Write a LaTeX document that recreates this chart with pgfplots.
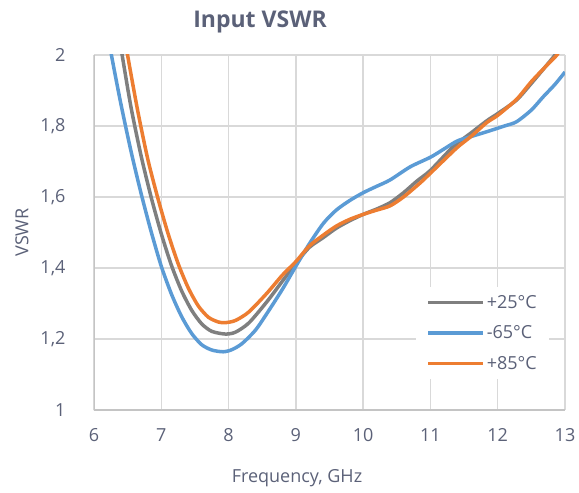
\documentclass[border=0pt]{standalone}
\usepackage{pgfplots}
\pgfplotsset{compat=1.18}
\usepackage{fontspec}
\setmainfont{Open Sans}
\definecolor{txt}{HTML}{5B6178}
\definecolor{gridc}{HTML}{D9D9D9}
\definecolor{axc}{HTML}{C4C4C4}
\definecolor{cgray}{HTML}{7F7F7F}
\definecolor{cblue}{HTML}{5B9BD5}
\definecolor{corange}{HTML}{ED7D31}
\begin{document}
\begin{tikzpicture}
\useasboundingbox (-94bp,-83bp) rectangle (485bp,410bp);
\begin{axis}[
 scale only axis, width=471bp, height=355bp,
 at={(0,0)}, anchor=south west,
 xmin=6, xmax=13, ymin=1, ymax=2,
 xtick={6,...,13}, ytick={1,1.2,1.4,1.6,1.8,2},
 grid=major, major grid style={gridc, line width=1.5bp},
 axis line style={draw=none},
 major tick length=0pt,
 /pgf/number format/assume math mode=true,
 /pgf/number format/use comma,
 yticklabel style={/pgf/number format/fixed, /pgf/number format/precision=1, font=\fontsize{18bp}{20bp}\selectfont, text=txt, xshift=-25bp},
 xticklabel style={font=\fontsize{18bp}{20bp}\selectfont, text=txt, yshift=-15bp},
 xlabel={Frequency, GHz},
 xlabel style={at={(axis description cs:0.431,-0.1915)}, anchor=center, font=\fontsize{18bp}{20bp}\selectfont, text=txt},
 ylabel={VSWR},
 ylabel style={at={(axis description cs:-0.153,0.5)}, anchor=center, font=\fontsize{18bp}{20bp}\selectfont, text=txt},
 legend style={draw=none, fill=white, at={(axis description cs:0.684,0.346)}, anchor=north west,
   nodes={text=txt, font=\fontsize{18bp}{20bp}\selectfont}, row sep=12bp, inner xsep=10bp, inner ysep=6bp},
 legend cell align=left,
 legend image code/.code={\draw[#1, line width=3.5bp] (0bp,0bp) -- (55bp,0bp);},
]
\addplot[cgray, line width=3.5bp, smooth, tension=0.45] coordinates {
(6.32,2.117) (6.42,1.998) (6.55,1.853) (6.7,1.716) (6.85,1.599) (7.0,1.4965) (7.15,1.408) (7.3,1.3365) (7.45,1.2815) (7.6,1.2428) (7.75,1.2216) (7.95,1.214) (8.1,1.219) (8.3,1.245) (8.57,1.305) (8.8,1.363) (9.0,1.413) (9.2,1.458) (9.41,1.486) (9.6,1.512) (9.8,1.533) (10.0,1.551) (10.2,1.566) (10.4,1.584) (10.6,1.612) (10.8,1.645) (11.0,1.675) (11.34,1.742) (11.6,1.78) (11.84,1.815) (12.0,1.835) (12.28,1.873) (12.5,1.92) (12.7,1.965) (12.85,2.0) (12.9,2.02)
};
\addlegendentry{+25°C}
\addplot[cblue, line width=3.5bp, smooth, tension=0.45] coordinates {
(6.15,2.12) (6.26,1.999) (6.4,1.862) (6.55,1.729) (6.7,1.610) (6.85,1.502) (7.0,1.405) (7.15,1.327) (7.3,1.264) (7.45,1.216) (7.6,1.184) (7.75,1.169) (7.92,1.164) (8.05,1.170) (8.2,1.187) (8.4,1.225) (8.57,1.272) (8.8,1.340) (9.0,1.405) (9.2,1.468) (9.41,1.526) (9.6,1.563) (9.8,1.59) (10.0,1.612) (10.2,1.630) (10.4,1.648) (10.7,1.685) (11.0,1.712) (11.2,1.735) (11.4,1.758) (11.6,1.770) (11.84,1.784) (12.1,1.800) (12.28,1.812) (12.5,1.845) (12.68,1.883) (12.85,1.917) (13.0,1.952)
};
\addlegendentry{-65°C}
\addplot[corange, line width=3.5bp, smooth, tension=0.45] coordinates {
(6.4,2.111) (6.5,1.9987) (6.65,1.8426) (6.8,1.7062) (6.95,1.596) (7.1,1.4974) (7.25,1.4126) (7.4,1.3443) (7.55,1.2932) (7.7,1.2613) (7.85,1.2478) (7.95,1.246) (8.1,1.252) (8.3,1.276) (8.57,1.329) (8.8,1.38) (9.0,1.418) (9.2,1.462) (9.41,1.493) (9.6,1.518) (9.8,1.537) (10.0,1.551) (10.2,1.563) (10.4,1.575) (10.6,1.60) (10.85,1.64) (11.0,1.667) (11.39,1.738) (11.6,1.77) (11.84,1.81) (12.0,1.83) (12.28,1.875) (12.5,1.925) (12.7,1.965) (12.88,2.0) (12.93,2.02)
};
\addlegendentry{+85°C}
\draw[axc, line width=1.5bp] (rel axis cs:0,1) -- (rel axis cs:0,0) -- (rel axis cs:1,0);
\end{axis}
\node[text=txt, font=\bfseries\fontsize{23bp}{25bp}\selectfont] at (166bp,388bp) {Input VSWR};
\end{tikzpicture}
\end{document}
